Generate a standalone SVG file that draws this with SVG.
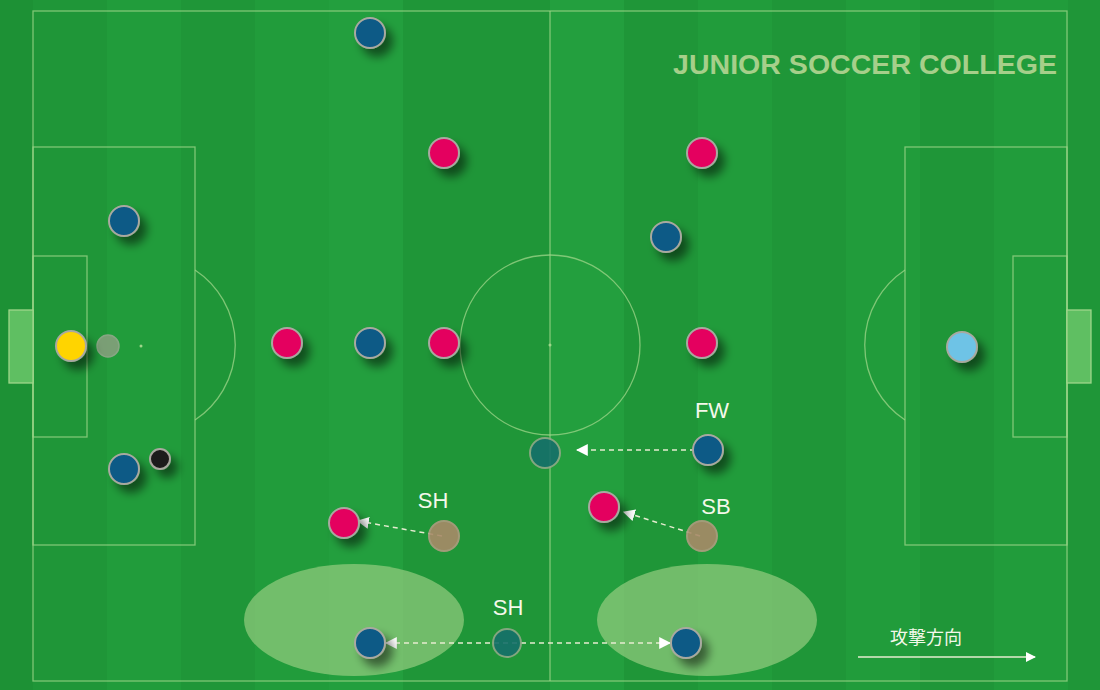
<svg xmlns="http://www.w3.org/2000/svg" width="1100" height="690" viewBox="0 0 1100 690">
<defs>
<style>
.line{fill:none;stroke:#9fd68a;stroke-width:1.3;stroke-opacity:0.75}
.p{stroke:#a9a9a0;stroke-width:2}
.blue{fill:#0b5a86}
.pink{fill:#e4005f}
.lbl{font-family:"Liberation Sans",Arial,sans-serif;font-size:22px;fill:#f4f8ea}
.dash{fill:none;stroke:#e6ecd0;stroke-width:1.5;stroke-dasharray:5,4}
</style>
<filter id="sh" x="-50%" y="-50%" width="250%" height="250%">
<feGaussianBlur in="SourceAlpha" stdDeviation="5"/>
<feOffset dx="7" dy="8" result="b"/>
<feComponentTransfer><feFuncA type="linear" slope="0.5"/></feComponentTransfer>
<feMerge><feMergeNode/><feMergeNode in="SourceGraphic"/></feMerge>
</filter>
<marker id="ah" viewBox="0 0 10 10" refX="9" refY="5" markerWidth="12" markerHeight="12" markerUnits="userSpaceOnUse" orient="auto-start-reverse">
<path d="M0,0 L10,5 L0,10 z" fill="#ffffff"/>
</marker>
<marker id="ah2" viewBox="0 0 10 10" refX="9" refY="5" markerWidth="12" markerHeight="12" markerUnits="userSpaceOnUse" orient="auto">
<path d="M0,0 L10,5 L0,10 z" fill="#ffffff"/>
</marker>
<marker id="ah3" viewBox="0 0 10 10" refX="9" refY="5" markerWidth="10" markerHeight="10" markerUnits="userSpaceOnUse" orient="auto">
<path d="M0,0 L10,5 L0,10 z" fill="#ffffff"/>
</marker>
</defs>
<g id="pitch">
<rect x="0" y="0" width="1100" height="690" fill="#1f9638"/>
<rect x="0" y="0" width="33" height="690" fill="#1d9135"/>
<rect x="107" y="0" width="74" height="690" fill="#23a03e" opacity="0.6"/>
<rect x="255" y="0" width="74" height="690" fill="#23a03e" opacity="0.6"/>
<rect x="329" y="0" width="74" height="690" fill="#28a744" opacity="0.5"/>
<rect x="550" y="0" width="74" height="690" fill="#28a744" opacity="0.5"/>
<rect x="698" y="0" width="74" height="690" fill="#23a03e" opacity="0.6"/>
<rect x="846" y="0" width="74" height="690" fill="#23a03e" opacity="0.6"/>
<rect x="994" y="0" width="74" height="690" fill="#23a03e" opacity="0.6"/>
<rect x="33" y="11" width="1034" height="670" class="line"/>
<line x1="550" y1="11" x2="550" y2="681" class="line"/>
<circle cx="550" cy="345" r="90" class="line"/>
<circle cx="550" cy="345" r="1.5" fill="#9fd68a"/>
<rect x="33" y="147" width="162" height="398" class="line"/>
<rect x="33" y="256" width="54" height="181" class="line"/>
<rect x="9" y="310" width="24" height="73" fill="#5fbf62" stroke="#9fd68a" stroke-width="1.3"/>
<path d="M195,270 A90,90 0 0 1 195,420" class="line"/>
<circle cx="141" cy="346" r="1.5" fill="#9fd68a"/>
<rect x="905" y="147" width="162" height="398" class="line"/>
<rect x="1013" y="256" width="54" height="181" class="line"/>
<rect x="1067" y="310" width="24" height="73" fill="#5fbf62" stroke="#9fd68a" stroke-width="1.3"/>
<path d="M905,270 A90,90 0 0 0 905,420" class="line"/>
<ellipse cx="354" cy="620" rx="110" ry="56" fill="#a8d58c" opacity="0.6"/>
<ellipse cx="707" cy="620" rx="110" ry="56" fill="#a8d58c" opacity="0.6"/>
<text x="673" y="74" font-family="Liberation Sans,Arial,sans-serif" font-weight="bold" font-size="27" fill="#a6cf8a" textLength="384" lengthAdjust="spacingAndGlyphs">JUNIOR SOCCER COLLEGE</text>
</g>
<g id="connectors">
<line x1="695" y1="450" x2="577" y2="450" class="dash" marker-end="url(#ah2)"/>
<line x1="700" y1="536" x2="624" y2="512" class="dash" marker-end="url(#ah2)"/>
<line x1="442" y1="536" x2="358" y2="521" class="dash" marker-end="url(#ah2)"/>
<line x1="386" y1="643" x2="670" y2="643" class="dash" marker-start="url(#ah)" marker-end="url(#ah)"/>
<line x1="858" y1="657" x2="1035" y2="657" stroke="#e6ecd0" stroke-width="1.5" marker-end="url(#ah3)"/>
</g>
<g id="ghosts">
<circle cx="108" cy="346" r="11" fill="#8aa080" stroke="#9aa890" stroke-width="1.5" opacity="0.85"/>
<circle id="ghost-fw" cx="545" cy="453" r="15" fill="#16706a" stroke="#8fa888" stroke-width="2" opacity="0.9"/>
<circle id="ghost-sh2" cx="507" cy="643" r="14" fill="#16706a" stroke="#8fa888" stroke-width="2" opacity="0.9"/>
<circle id="ghost-sh" cx="444" cy="536" r="15" fill="#a88a68" stroke="#b09c80" stroke-width="2" opacity="0.9"/>
<circle id="ghost-sb" cx="702" cy="536" r="15" fill="#a88a68" stroke="#b09c80" stroke-width="2" opacity="0.9"/>
</g>
<g id="players" filter="url(#sh)">
<g id="b1"><circle cx="370" cy="33" r="15" class="p blue"/></g>
<g id="b2"><circle cx="124" cy="221" r="15" class="p blue"/></g>
<g id="b3"><circle cx="370" cy="343" r="15" class="p blue"/></g>
<g id="b4"><circle cx="666" cy="237" r="15" class="p blue"/></g>
<g id="b5"><circle cx="124" cy="469" r="15" class="p blue"/></g>
<g id="b6"><circle cx="708" cy="450" r="15" class="p blue"/></g>
<g id="b7"><circle cx="370" cy="643" r="15" class="p blue"/></g>
<g id="b8"><circle cx="686" cy="643" r="15" class="p blue"/></g>
<g id="r1"><circle cx="444" cy="153" r="15" class="p pink"/></g>
<g id="r2"><circle cx="702" cy="153" r="15" class="p pink"/></g>
<g id="r3"><circle cx="287" cy="343" r="15" class="p pink"/></g>
<g id="r4"><circle cx="444" cy="343" r="15" class="p pink"/></g>
<g id="r5"><circle cx="702" cy="343" r="15" class="p pink"/></g>
<g id="r6"><circle cx="604" cy="507" r="15" class="p pink"/></g>
<g id="r7"><circle cx="344" cy="523" r="15" class="p pink"/></g>
<g id="gk1"><circle cx="71" cy="346" r="15" fill="#ffd400" class="p"/></g>
<g id="gk2"><circle cx="962" cy="347" r="15" fill="#6ec3e6" class="p"/></g>
<g id="ball"><circle cx="160" cy="459" r="10" fill="#1e1a1a" class="p"/></g>
</g>
<g id="labels">
<text x="712" y="418" class="lbl" text-anchor="middle">FW</text>
<text x="433" y="508" class="lbl" text-anchor="middle">SH</text>
<text x="716" y="514" class="lbl" text-anchor="middle">SB</text>
<text x="508" y="615" class="lbl" text-anchor="middle">SH</text>
<text x="926" y="644" font-family="Noto Sans CJK JP,sans-serif" font-size="18" fill="#f4f8ea" text-anchor="middle">攻撃方向</text>
</g>
</svg>
